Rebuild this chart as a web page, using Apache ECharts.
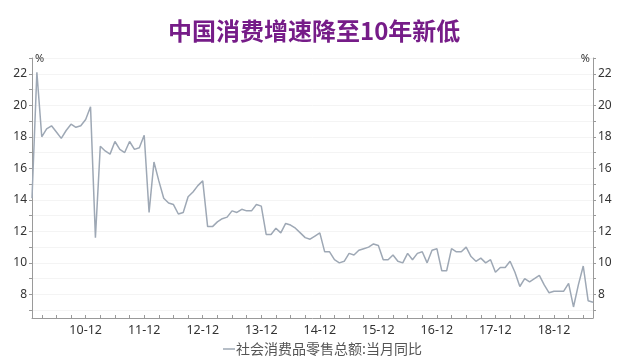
<!DOCTYPE html>
<html>
<head>
<meta charset="utf-8">
<script src="https://cdn.jsdelivr.net/npm/echarts@6/dist/echarts.min.js"></script>
<style>
html,body{margin:0;padding:0;background:#fff;}
#chart{width:640px;height:359px;}
</style>
</head>
<body>
<div id="chart"></div>
<script>
// Chart text
const titleText = '中国消费增速降至10年新低';
const seriesName = '社会消费品零售总额:当月同比';

// Years (YY) and months covered
const years = ['10','11','12','13','14','15','16','17','18','19'];
const months = ['01','02','03','04','05','06','07','08','09','10','11','12'];

// Monthly YoY values (%)
const v2010 = [14.1, 22.1, 18.0, 18.5, 18.7, 18.3, 17.9, 18.4, 18.8, 18.6, 18.7, 19.1];
const v2011 = [19.9, 11.6, 17.4, 17.1, 16.9, 17.7, 17.2, 17.0, 17.7, 17.2, 17.3, 18.1];
const v2012 = [13.2, 16.4, 15.2, 14.1, 13.8, 13.7, 13.1, 13.2, 14.2, 14.5, 14.9, 15.2];
const v2013 = [12.3, 12.3, 12.6, 12.8, 12.9, 13.3, 13.2, 13.4, 13.3, 13.3, 13.7, 13.6];
const v2014 = [11.8, 11.8, 12.2, 11.9, 12.5, 12.4, 12.2, 11.9, 11.6, 11.5, 11.7, 11.9];
const v2015 = [10.7, 10.7, 10.2, 10.0, 10.1, 10.6, 10.5, 10.8, 10.9, 11.0, 11.2, 11.1];
const v2016 = [10.2, 10.2, 10.5, 10.1, 10.0, 10.6, 10.2, 10.6, 10.7, 10.0, 10.8, 10.9];
const v2017 = [9.5, 9.5, 10.9, 10.7, 10.7, 11.0, 10.4, 10.1, 10.3, 10.0, 10.2, 9.4];
const v2018 = [9.7, 9.7, 10.1, 9.4, 8.5, 9.0, 8.8, 9.0, 9.2, 8.6, 8.1, 8.2];
const v2019 = [8.2, 8.2, 8.7, 7.2, 8.6, 9.8, 7.6, 7.5];

// Y axis tick labels and tick marks
const yLabelValues = [8, 10, 12, 14, 16, 18, 20, 22];
const yTickValues = [7, 8, 9, 10, 11, 12, 13, 14, 15, 16, 17, 18, 19, 20, 21, 22, 23];

const values = [].concat(v2010, v2011, v2012, v2013, v2014, v2015, v2016, v2017, v2018, v2019);
const categories = [];
years.forEach(function (y) {
  months.forEach(function (m) {
    if (categories.length < values.length) categories.push(y + '-' + m);
  });
});

const axisColor = '#9a9a9a';
const labelFont = 'Noto Sans';

function yAxisCfg(pos) {
  return {
    type: 'value',
    position: pos,
    min: 6.5,
    max: 23,
    name: '%',
    nameLocation: 'end',
    nameGap: -6,
    nameTextStyle: {
      color: '#333', fontSize: 11, fontFamily: labelFont,
      align: pos === 'left' ? 'left' : 'right',
      padding: pos === 'left' ? [0, 0, 0, 3] : [0, 3, 0, 0]
    },
    axisLine: { show: true, lineStyle: { color: axisColor, width: 1 } },
    axisTick: { show: true, length: 3, customValues: yTickValues, lineStyle: { color: axisColor } },
    axisLabel: {
      customValues: yLabelValues, color: '#333', fontSize: 12, fontFamily: labelFont, margin: 5
    },
    splitLine: { show: pos === 'left', lineStyle: { color: '#f4f4f4', width: 1 } }
  };
}

const chart = echarts.init(document.getElementById('chart'), null, { renderer: 'canvas' });
chart.setOption({
  animation: false,
  backgroundColor: '#fff',
  title: {
    text: titleText,
    left: 163,
    top: 14,
    textStyle: { color: '#761c88', fontSize: 24, fontWeight: 'bold', fontFamily: 'Noto Sans CJK SC' }
  },
  grid: { left: 32, right: 47, top: 58, bottom: 41, containLabel: false },
  legend: {
    bottom: -2,
    left: 218,
    data: [seriesName],
    icon: 'rect',
    itemWidth: 12,
    itemHeight: 1.5,
    itemGap: 4,
    textStyle: { color: '#555', fontSize: 14, fontFamily: 'Noto Sans CJK SC', padding: [0, 0, 0, -4] }
  },
  xAxis: {
    type: 'category',
    boundaryGap: false,
    data: categories,
    axisLine: { lineStyle: { color: axisColor, width: 1 } },
    axisTick: {
      inside: true, length: 3, lineStyle: { color: axisColor },
      interval: function (i) { return i % 3 === 2; }
    },
    axisLabel: {
      interval: function (i) { return i % 12 === 11; },
      color: '#333', fontSize: 12.5, fontFamily: labelFont, margin: 6
    },
    splitLine: { show: false }
  },
  yAxis: [yAxisCfg('left'), yAxisCfg('right')],
  series: [{
    name: seriesName,
    type: 'line',
    data: values,
    yAxisIndex: 0,
    showSymbol: false,
    symbol: 'none',
    lineStyle: { color: '#9ea8b5', width: 1.5 },
    itemStyle: { color: '#9ea8b5' }
  }]
});
</script>
</body>
</html>
